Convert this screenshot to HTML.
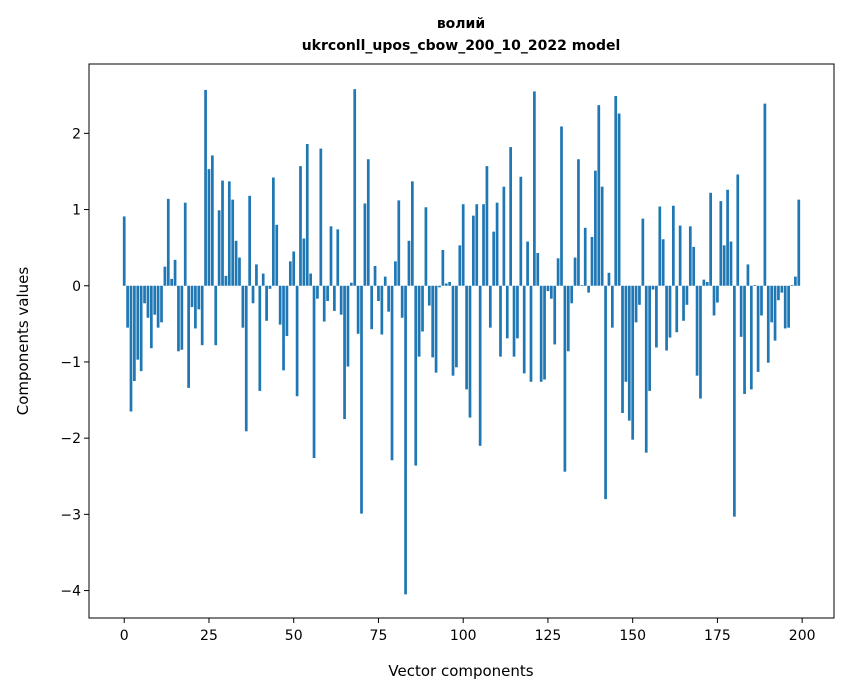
<!DOCTYPE html>
<html><head><meta charset="utf-8"><style>
body{margin:0;background:#fff;}
svg{display:block;font-family:"DejaVu Sans","Liberation Sans",sans-serif;}
</style></head><body>
<svg id="chart" width="847" height="696" viewBox="0 0 847 696" xmlns="http://www.w3.org/2000/svg">
<rect width="847" height="696" fill="#fff"/>
<text x="461" y="28" text-anchor="middle" font-size="14" font-weight="bold">волий</text>
<text x="461" y="50" text-anchor="middle" font-size="14" font-weight="bold">ukrconll_upos_cbow_200_10_2022 model</text>
<g id="bars"></g>
<g id="xticks"></g>
<g id="yticks"></g>
<rect x="89" y="64" width="745" height="554" fill="none" stroke="#000" stroke-width="1"/>
<text x="461" y="676" text-anchor="middle" font-size="15">Vector components</text>
<text transform="translate(28,341) rotate(-90)" text-anchor="middle" font-size="15">Components values</text>
</svg>
<script>
const values = [0.91,-0.55,-1.65,-1.25,-0.97,-1.12,-0.23,-0.42,-0.82,-0.38,
-0.55,-0.48,0.25,1.14,0.09,0.34,-0.86,-0.84,1.09,-1.34,
-0.28,-0.56,-0.31,-0.78,2.57,1.53,1.71,-0.78,0.99,1.38,
0.13,1.37,1.13,0.59,0.37,-0.55,-1.91,1.18,-0.23,0.28,
-1.38,0.16,-0.46,-0.04,1.42,0.80,-0.51,-1.11,-0.66,0.32,
0.45,-1.45,1.57,0.62,1.86,0.16,-2.26,-0.17,1.80,-0.47,
-0.20,0.78,-0.33,0.74,-0.38,-1.75,-1.06,0.04,2.58,-0.63,
-2.99,1.08,1.66,-0.57,0.26,-0.20,-0.64,0.12,-0.34,-2.29,
0.32,1.12,-0.42,-4.05,0.59,1.37,-2.36,-0.93,-0.60,1.03,
-0.26,-0.94,-1.14,-0.02,0.47,0.03,0.05,-1.18,-1.07,0.53,
1.07,-1.36,-1.73,0.92,1.07,-2.10,1.07,1.57,-0.55,0.71,
1.09,-0.93,1.30,-0.69,1.82,-0.93,-0.69,1.43,-1.15,0.58,
-1.26,2.55,0.43,-1.26,-1.23,-0.07,-0.17,-0.77,0.36,2.09,
-2.44,-0.86,-0.23,0.37,1.66,0.01,0.76,-0.09,0.64,1.51,
2.37,1.30,-2.80,0.17,-0.55,2.49,2.26,-1.67,-1.26,-1.77,
-2.02,-0.48,-0.25,0.88,-2.19,-1.38,-0.05,-0.81,1.04,0.61,
-0.85,-0.68,1.05,-0.61,0.79,-0.46,-0.25,0.78,0.51,-1.18,
-1.48,0.08,0.05,1.22,-0.39,-0.22,1.11,0.53,1.26,0.58,
-3.03,1.46,-0.67,-1.42,0.28,-1.36,0.01,-1.13,-0.39,2.39,
-1.01,-0.48,-0.72,-0.19,-0.09,-0.56,-0.55,0.01,0.12,1.13];
const xTickLabels = [0,25,50,75,100,125,150,175,200];
const yTickLabels = [-4,-3,-2,-1,0,1,2];
const NS = "http://www.w3.org/2000/svg";
const X0 = 89, X1 = 834, Y0 = 64, Y1 = 618;
const xMin = -10.39, xMax = 209.39, yMin = -4.36, yMax = 2.91;
function xs(v){ return X0 + (v - xMin) / (xMax - xMin) * (X1 - X0); }
function ys(v){ return Y1 - (v - yMin) / (yMax - yMin) * (Y1 - Y0); }
const bars = document.getElementById('bars');
values.forEach((v, i) => {
  const r = document.createElementNS(NS, 'rect');
  const xa = xs(i - 0.4), xb = xs(i + 0.4);
  const y0 = ys(0), yv = ys(v);
  r.setAttribute('x', xa);
  r.setAttribute('width', xb - xa);
  r.setAttribute('y', Math.min(y0, yv));
  r.setAttribute('height', Math.abs(yv - y0));
  r.setAttribute('fill', '#1f77b4');
  
  
  bars.appendChild(r);
});
const xg = document.getElementById('xticks');
xTickLabels.forEach(t => {
  const x = xs(t);
  const l = document.createElementNS(NS, 'line');
  l.setAttribute('x1', x); l.setAttribute('x2', x);
  l.setAttribute('y1', Y1); l.setAttribute('y2', Y1 + 5);
  l.setAttribute('stroke', '#000');
  
  
  xg.appendChild(l);
  const tx = document.createElementNS(NS, 'text');
  tx.setAttribute('x', x); tx.setAttribute('y', Y1 + 22);
  tx.setAttribute('text-anchor', 'middle'); tx.setAttribute('font-size', '14');
  tx.textContent = t;
  
  
  xg.appendChild(tx);
});
const yg = document.getElementById('yticks');
yTickLabels.forEach(t => {
  const y = ys(t);
  const l = document.createElementNS(NS, 'line');
  l.setAttribute('x1', X0 - 5); l.setAttribute('x2', X0);
  l.setAttribute('y1', y); l.setAttribute('y2', y);
  l.setAttribute('stroke', '#000');
  
  
  yg.appendChild(l);
  const tx = document.createElementNS(NS, 'text');
  tx.setAttribute('x', X0 - 8); tx.setAttribute('y', y + 5);
  tx.setAttribute('text-anchor', 'end'); tx.setAttribute('font-size', '14');
  tx.textContent = t < 0 ? '\u2212' + Math.abs(t) : String(t);
  
  
  yg.appendChild(tx);
});
</script>
</body></html>
